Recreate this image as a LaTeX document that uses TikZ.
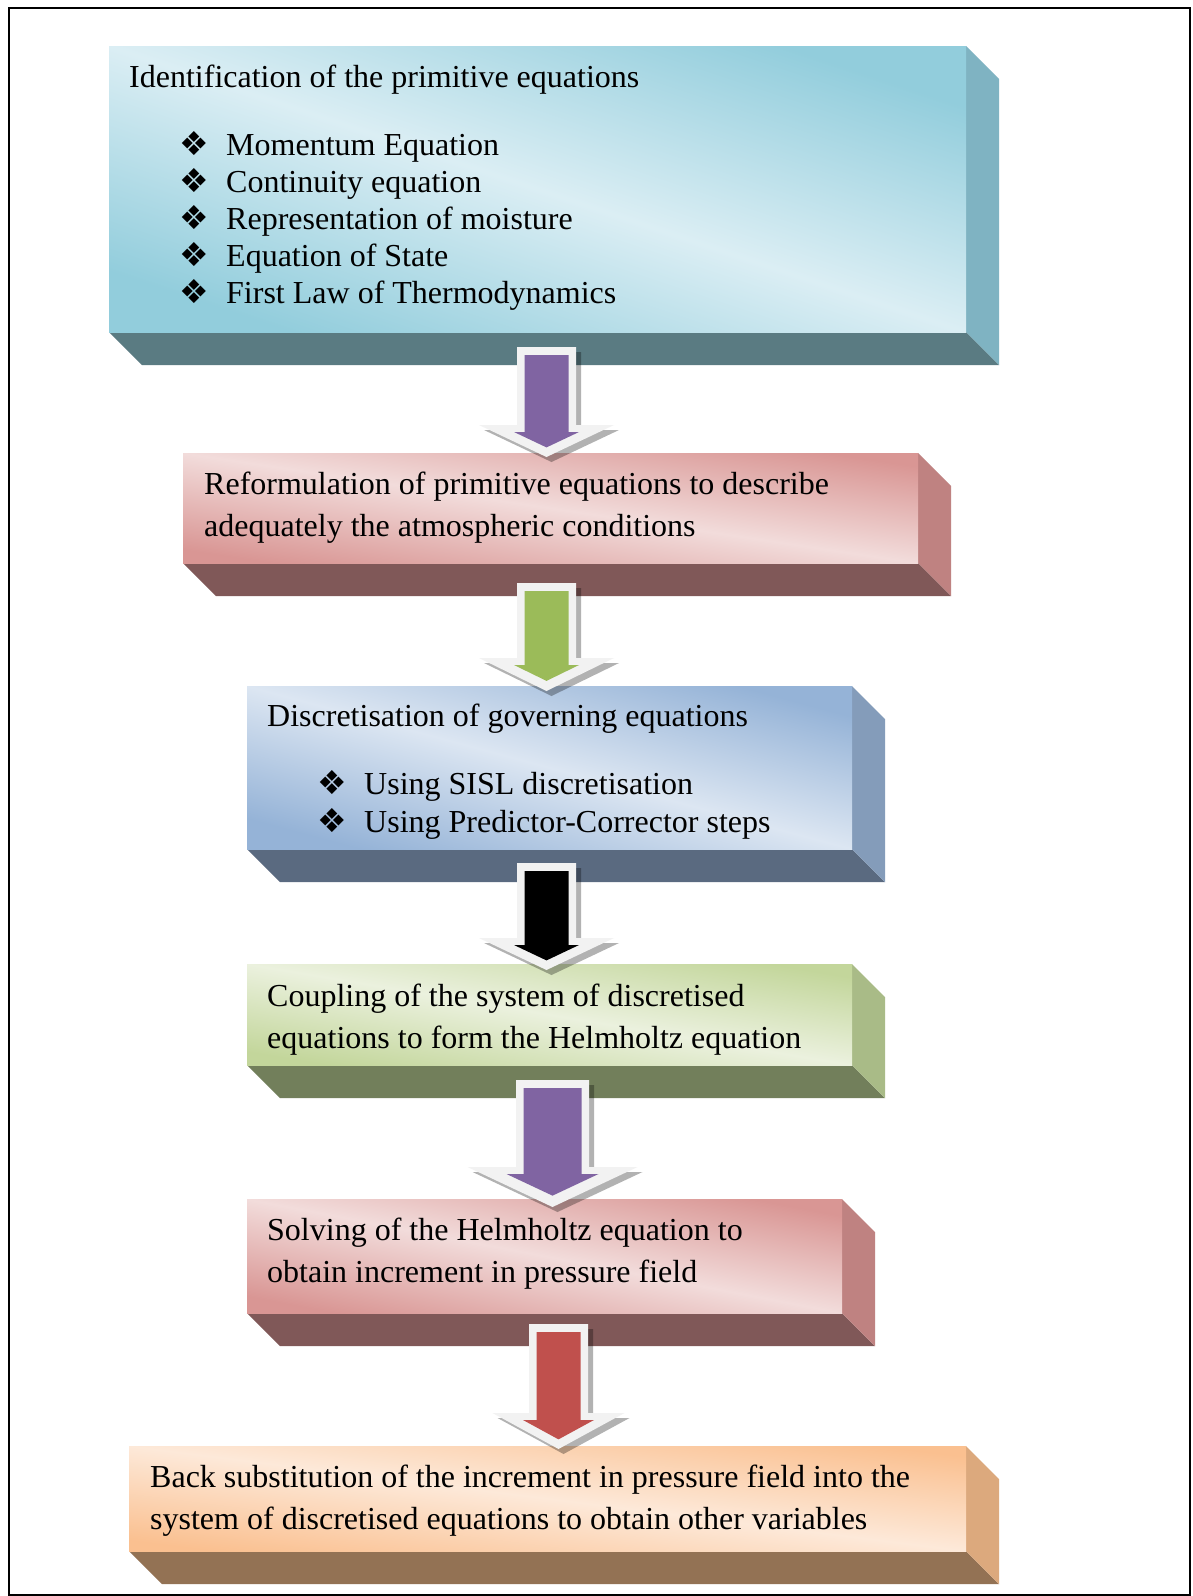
\documentclass[tikz,border=0pt]{standalone}
\usepackage{fontspec}
\setmainfont{Liberation Serif}
\newfontfamily\dejavu{DejaVu Sans}
\usetikzlibrary{calc}
\definecolor{bAdark}{HTML}{92CDDC}\definecolor{bAlight}{HTML}{DBEEF4}\definecolor{bAside}{HTML}{7FB3C2}\definecolor{bAbot}{HTML}{5A7B82}
\definecolor{bBdark}{HTML}{D99694}\definecolor{bBlight}{HTML}{F2DCDB}\definecolor{bBside}{HTML}{BF8281}\definecolor{bBbot}{HTML}{805858}
\definecolor{bCdark}{HTML}{95B3D7}\definecolor{bClight}{HTML}{DCE6F2}\definecolor{bCside}{HTML}{849CBA}\definecolor{bCbot}{HTML}{5A6A80}
\definecolor{bDdark}{HTML}{C3D69B}\definecolor{bDlight}{HTML}{EBF1DE}\definecolor{bDside}{HTML}{A9BB87}\definecolor{bDbot}{HTML}{727F5B}
\definecolor{bEdark}{HTML}{FAC090}\definecolor{bElight}{HTML}{FDE9D9}\definecolor{bEside}{HTML}{DCA97D}\definecolor{bEbot}{HTML}{937254}
\definecolor{arPurple}{HTML}{8064A2}\definecolor{arGreen}{HTML}{9BBB59}\definecolor{arRed}{HTML}{C0504D}\definecolor{arWhite}{HTML}{F2F2F2}
\newcommand\bul{{\dejavu\fontsize{33}{33}\selectfont ❖}}
\tikzset{
  txt/.style={anchor=base west, inner sep=0pt, font=\fontsize{32}{36}\selectfont},
  face/.style={anchor=north west, inner sep=0pt, outer sep=0pt},
}
% #1 name, #2 x0, #3 y0, #4 x1, #5 y1, #6 dark, #7 light, #8 side, #9 bottom
\newcommand\bevelbox[9]{%
  \fill[#9] (#2,#5) -- (#4,#5) -- ({#4+33},{#5+33}) -- ({#2+33},{#5+33}) -- cycle;
  \fill[#8] (#4,#3) -- ({#4+33},{#3+33}) -- ({#4+33},{#5+33}) -- (#4,#5) -- cycle;
  \pgfmathsetmacro\shang{-atan((#5-#3)/(#4-#2))}%
  \node[face, top color=#6, bottom color=#6, middle color=#7, shading angle=\shang,
        minimum width={#4-#2}, minimum height={#5-#3}] (#1) at (#2,#3) {};
}
% #1 cx, #2 top, #3 shaft half, #4 head base, #5 head half, #6 tip, #7 inner head half, #8 colour
\newcommand\blockarrow[8]{%
  \fill[black, opacity=0.3] ({#1-#3+5},{#2+5}) -- ({#1+#3+5},{#2+5}) -- ({#1+#3+5},{#4+5}) -- ({#1+#5+5},{#4+5})
     -- ({#1+5},{#6+5}) -- ({#1-#5+5},{#4+5}) -- ({#1-#3+5},{#4+5}) -- cycle;
  \fill[arWhite] ({#1-#3},#2) -- ({#1+#3},#2) -- ({#1+#3},#4) -- ({#1+#5},#4)
     -- (#1,#6) -- ({#1-#5},#4) -- ({#1-#3},#4) -- cycle;
  \fill[#8] ({#1-#3+7.5},{#2+8}) -- ({#1+#3-7.5},{#2+8}) -- ({#1+#3-7.5},{#4+7}) -- ({#1+#7},{#4+7})
     -- (#1,{#4+7+#7*(#6-#4)/#5}) -- ({#1-#7},{#4+7}) -- ({#1-#3+7.5},{#4+7}) -- cycle;
}
\begin{document}
\begin{tikzpicture}[x=1pt,y=-1pt]
\useasboundingbox (0,0) rectangle (1192,1596);
\fill[white] (0,0) rectangle (1192,1596);
\draw[line width=2pt] (9,8) rectangle (1190,1595);

\bevelbox{b1}{109}{46}{966}{332}{bAdark}{bAlight}{bAside}{bAbot}
\bevelbox{b2}{183}{453}{918}{563}{bBdark}{bBlight}{bBside}{bBbot}
\bevelbox{b3}{247}{686}{852}{849}{bCdark}{bClight}{bCside}{bCbot}
\bevelbox{b4}{247}{964}{852}{1065}{bDdark}{bDlight}{bDside}{bDbot}
\bevelbox{b5}{247}{1199}{842}{1313}{bBdark}{bBlight}{bBside}{bBbot}
\bevelbox{b6}{129}{1446}{966}{1551}{bEdark}{bElight}{bEside}{bEbot}

\blockarrow{546.5}{347}{29.5}{425}{67.5}{457}{32.5}{arPurple}
\blockarrow{546.5}{583}{29.5}{658}{67.5}{691}{32.5}{arGreen}
\blockarrow{546.5}{863}{29.5}{938}{67.5}{970}{32.5}{black}
\blockarrow{552.5}{1080}{36.5}{1167}{85}{1207}{46}{arPurple}
\blockarrow{558.5}{1324}{29.5}{1413}{66}{1449}{35.5}{arRed}

\node[txt] (t1) at (129,87) {Identification of the primitive equations};
\node[txt] (t1a) at (179,155) {\makebox[47pt][l]{\bul}Momentum Equation};
\node[txt] (t1b) at (179,192) {\makebox[47pt][l]{\bul}Continuity equation};
\node[txt] (t1c) at (179,229) {\makebox[47pt][l]{\bul}Representation of moisture};
\node[txt] (t1d) at (179,266) {\makebox[47pt][l]{\bul}Equation of State};
\node[txt] (t1e) at (179,303) {\makebox[47pt][l]{\bul}First Law of Thermodynamics};

\node[txt] (t2a) at (204,494) {Reformulation of primitive equations to describe};
\node[txt] (t2b) at (204,536) {adequately the atmospheric conditions};

\node[txt] (t3) at (267,726) {Discretisation of governing equations};
\node[txt] (t3a) at (317,794) {\makebox[47pt][l]{\bul}Using SISL discretisation};
\node[txt] (t3b) at (317,832) {\makebox[47pt][l]{\bul}Using Predictor-Corrector steps};

\node[txt] (t4a) at (267,1006) {Coupling of the system of discretised};
\node[txt] (t4b) at (267,1048) {equations to form the Helmholtz equation};

\node[txt] (t5a) at (267,1240) {Solving of the Helmholtz equation to};
\node[txt] (t5b) at (267,1282) {obtain increment in pressure field};

\node[txt] (t6a) at (150,1487) {Back substitution of the increment in pressure field into the};
\node[txt] (t6b) at (150,1529) {system of discretised equations to obtain other variables};
\end{tikzpicture}
\end{document}
